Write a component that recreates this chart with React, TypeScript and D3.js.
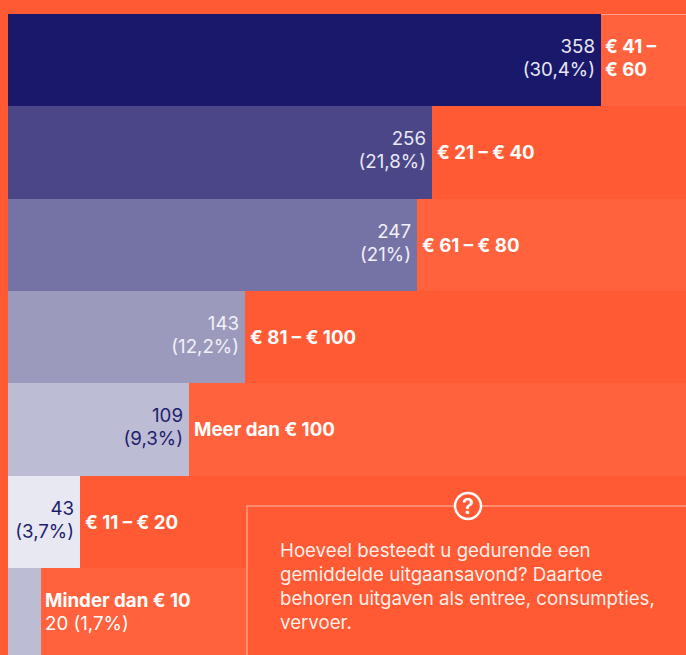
import * as d3 from 'd3'

const categories = ['€ 41 – € 60', '€ 21 – € 40', '€ 61 – € 80', '€ 81 – € 100', 'Meer dan € 100', '€ 11 – € 20', 'Minder dan € 10']
const counts = [358, 256, 247, 143, 109, 43, 20]
const percents = [30.4, 21.8, 21, 12.2, 9.3, 3.7, 1.7]
const question = [
  'Hoeveel besteedt u gedurende een',
  'gemiddelde uitgaansavond? Daartoe',
  'behoren uitgaven als entree, consumpties,',
  'vervoer.',
]

const barColors = ['#1a186b', '#4a4688', '#7573a5', '#9b9abd', '#bcbcd4', '#e7e8f2', '#bcbcd4']
const labelColors = ['#e8e8f3', '#e8e8f3', '#f1f1f7', '#f1f1f7', '#1f1d6e', '#1f1d6e', '#ffffff']

const width = 686
const height = 655
const orange = '#ff5a33'
const font = 'Inter, "Noto Sans", sans-serif'
const lineHeight = 23

const pct = (v: number) => `(${String(v).replace('.', ',')}%)`

function App() {
  const x = d3.scaleLinear().domain([0, 358]).range([8, 601])
  const y = d3.scaleBand<string>().domain(categories).range([14, 660.5]).padding(0)

  return (
    <svg
      width={width}
      height={height}
      style={{ position: 'absolute', top: 0, left: 0, display: 'block', fontFamily: font, fontSize: 18.7 }}
    >
      <rect width={width} height={height} fill={orange} />

      {categories.map((c, i) => {
        const top = Math.round(y(c)!)
        const bottom = Math.round(y(c)! + y.bandwidth())
        const mid = (top + bottom) / 2 + 0.5
        const right = Math.round(x(counts[i]) + 0.3)
        const base1 = mid - 8
        const base2 = base1 + lineHeight
        const single = mid + 6
        const small = i === categories.length - 1
        const wrap = i === 0
        return (
          <g key={c}>
            {i % 2 === 0 && <rect x={right} y={top} width={width - right} height={bottom - top} fill="#fff" opacity={0.05} />}
            <rect x={x(0)} y={top} width={right - x(0)} height={bottom - top} fill={barColors[i]} />
            {!small && (
              <text textAnchor="end" fill={labelColors[i]}>
                <tspan x={right - 6} y={base1}>{counts[i]}</tspan>
                <tspan x={right - 6} y={base2}>{pct(percents[i])}</tspan>
              </text>
            )}
            {wrap ? (
              <text fill="#fff" fontWeight={700}>
                <tspan x={right + 4} y={base1}>€ 41 –</tspan>
                <tspan x={right + 4} y={base2}>€ 60</tspan>
              </text>
            ) : small ? (
              <text fill="#fff">
                <tspan x={right + 4} y={base1} fontWeight={700}>{c}</tspan>
                <tspan x={right + 4} y={base2}>{`${counts[i]} ${pct(percents[i])}`}</tspan>
              </text>
            ) : (
              <text x={right + 5} y={single} fill="#fff" fontWeight={700}>{c}</text>
            )}
          </g>
        )
      })}

      <line x1={x(358)} x2={width} y1={14.5} y2={14.5} stroke="#fff" strokeOpacity={0.4} />

      <rect x={247} y={506} width={460} height={170} fill={orange} stroke="#fff" strokeOpacity={0.4} strokeWidth={1.5} />
      <circle cx={468} cy={506} r={13} fill={orange} stroke="#fff" strokeWidth={2.5} />
      <text x={468} y={514} textAnchor="middle" fill="#fff" fontWeight={600} fontSize={22}>?</text>
      <text fill="#fff" fillOpacity={0.92} fontSize={18.7}>
        {question.map((line, i) => (
          <tspan key={line} x={280} y={557 + i * 24}>{line}</tspan>
        ))}
      </text>
    </svg>
  )
}

export default App
